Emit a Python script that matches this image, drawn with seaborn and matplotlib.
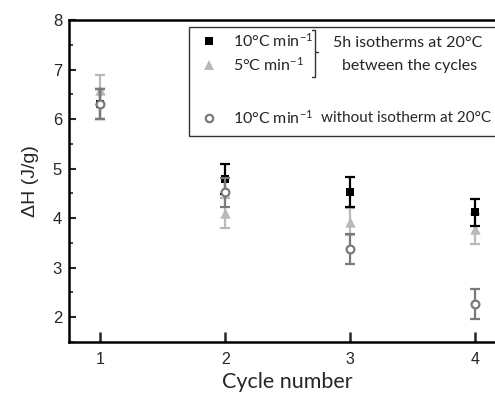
import numpy as np
import pandas as pd
import matplotlib
matplotlib.use("Agg")
import matplotlib.pyplot as plt
import seaborn as sns
from matplotlib.lines import Line2D
from matplotlib.patches import Rectangle

# ---- data ----
cycles = [1, 2, 3, 4]
dh_10_iso = [6.30, 4.79, 4.53, 4.12]
err_10_iso = [0.30, 0.30, 0.30, 0.27]
dh_5_iso = [6.58, 4.10, 3.93, 3.78]
err_5_iso = [0.30, 0.30, 0.28, 0.30]
dh_10_noiso = [6.30, 4.52, 3.38, 2.27]
err_10_noiso = [0.30, 0.30, 0.30, 0.30]
series_names = ["10 iso", "5 iso", "10 noiso"]
xticks = [1, 2, 3, 4]
yticks = [2, 3, 4, 5, 6, 7, 8]

df = pd.DataFrame({
    "cycle": cycles * 3,
    "dh": dh_10_iso + dh_5_iso + dh_10_noiso,
    "err": err_10_iso + err_5_iso + err_10_noiso,
    "series": [s for s in series_names for _ in cycles],
})

sns.set_style("ticks")
plt.rcParams["font.family"] = ["Liberation Sans", "DejaVu Sans"]
plt.rcParams["mathtext.fontset"] = "custom"
plt.rcParams["mathtext.rm"] = "Lato"
plt.rcParams["mathtext.it"] = "Lato:italic"

W, H = 495, 394
fig = plt.figure(figsize=(W / 100, H / 100), dpi=100)
ax_left, ax_top, ax_bot = 69, 20, 342
xmin, xmax = 0.75, 4.25
px_per_x = 125.0
ax_w = (xmax - xmin) * px_per_x
ax = fig.add_axes([ax_left / W, 1 - ax_bot / H, ax_w / W, (ax_bot - ax_top) / H])

styles = {
    "5 iso": dict(marker="^", color="#b9b9b9", face="#b9b9b9", ms=7.5, z=2),
    "10 iso": dict(marker="s", color="#000000", face="#000000", ms=6.2, z=3),
    "10 noiso": dict(marker="o", color="#7a7a7a", face="white", ms=5.6, z=4),
}
for name in ["5 iso", "10 iso", "10 noiso"]:
    st = styles[name]
    sub = df[df.series == name]
    ax.errorbar(sub.cycle, sub.dh, yerr=sub.err, fmt="none", ecolor=st["color"],
                elinewidth=1.6, capsize=3.5, capthick=1.6, zorder=st["z"])
    sns.scatterplot(data=sub, x="cycle", y="dh", marker=st["marker"], s=st["ms"] ** 2,
                    color=st["face"], edgecolor=st["color"],
                    linewidth=1.6 if name == "10 noiso" else 0,
                    ax=ax, zorder=st["z"] + 0.5, legend=False)

ax.set_xlim(xmin, xmax)
ax.set_ylim(1.5, 8)
ax.set_xticks(xticks)
ax.set_yticks(yticks)
ax.set_yticks(np.arange(1.5, 8.01, 0.5), minor=True)
ax.tick_params(axis="x", direction="in", length=7, width=1.8, labelsize=11.5, pad=7)
ax.tick_params(axis="y", which="major", direction="in", length=5, width=1.5, labelsize=12, pad=5)
ax.tick_params(axis="y", which="minor", direction="in", length=3, width=1.2)
for sp in ["left", "bottom", "top"]:
    ax.spines[sp].set_linewidth(1.8)
    ax.spines[sp].set_color("black")
ax.spines["right"].set_visible(False)
ax.set_xlabel("Cycle number", fontsize=15.5, family=["Lato", "DejaVu Sans"], labelpad=4)
ax.set_ylabel("ΔH (J/g)", fontsize=14, labelpad=10)

# ---- legend (drawn in figure pixel coords) ----
def fx(px):
    return px / W
def fy(py):
    return 1 - py / H

fig.add_artist(Rectangle((fx(189), fy(136)), fx(400), fy(27) - fy(136), transform=fig.transFigure,
                         fill=False, edgecolor="#333333", linewidth=1.0, clip_on=False))
leg_items = [("10 iso", 41), ("5 iso", 65), ("10 noiso", 118)]
for name, py in leg_items:
    st = styles[name]
    fig.add_artist(Line2D([fx(209)], [fy(py)], transform=fig.transFigure, marker=st["marker"],
                          markersize=st["ms"] * 0.95, markerfacecolor=st["face"],
                          markeredgecolor=st["color"],
                          markeredgewidth=1.6 if name == "10 noiso" else 0,
                          linestyle="none"))
lf = ["Lato", "DejaVu Sans"]
fs = 11.5
fig.text(fx(233), fy(41), "10°C min$^{-1}$", fontsize=fs, family=lf, va="center", ha="left")
fig.text(fx(233), fy(65), "5°C min$^{-1}$", fontsize=fs, family=lf, va="center", ha="left")
fig.text(fx(233), fy(118), "10°C min$^{-1}$", fontsize=fs, family=lf, va="center", ha="left")
fig.text(fx(408), fy(43), "5h isotherms at 20°C", fontsize=fs, family=lf, va="center", ha="center")
fig.text(fx(410), fy(66), "between the cycles", fontsize=fs, family=lf, va="center", ha="center")
fig.text(fx(321), fy(118), "without isotherm at 20°C", fontsize=11, family=lf, va="center", ha="left")
# bracket
fig.add_artist(Line2D([fx(312), fx(315), fx(315), fx(312)], [fy(30), fy(30), fy(77), fy(77)],
                      transform=fig.transFigure, color="#333333", linewidth=1.0))
fig.add_artist(Line2D([fx(315), fx(318)], [fy(52), fy(52)], transform=fig.transFigure,
                      color="#333333", linewidth=1.0))

fig.savefig("out.png", dpi=100)
